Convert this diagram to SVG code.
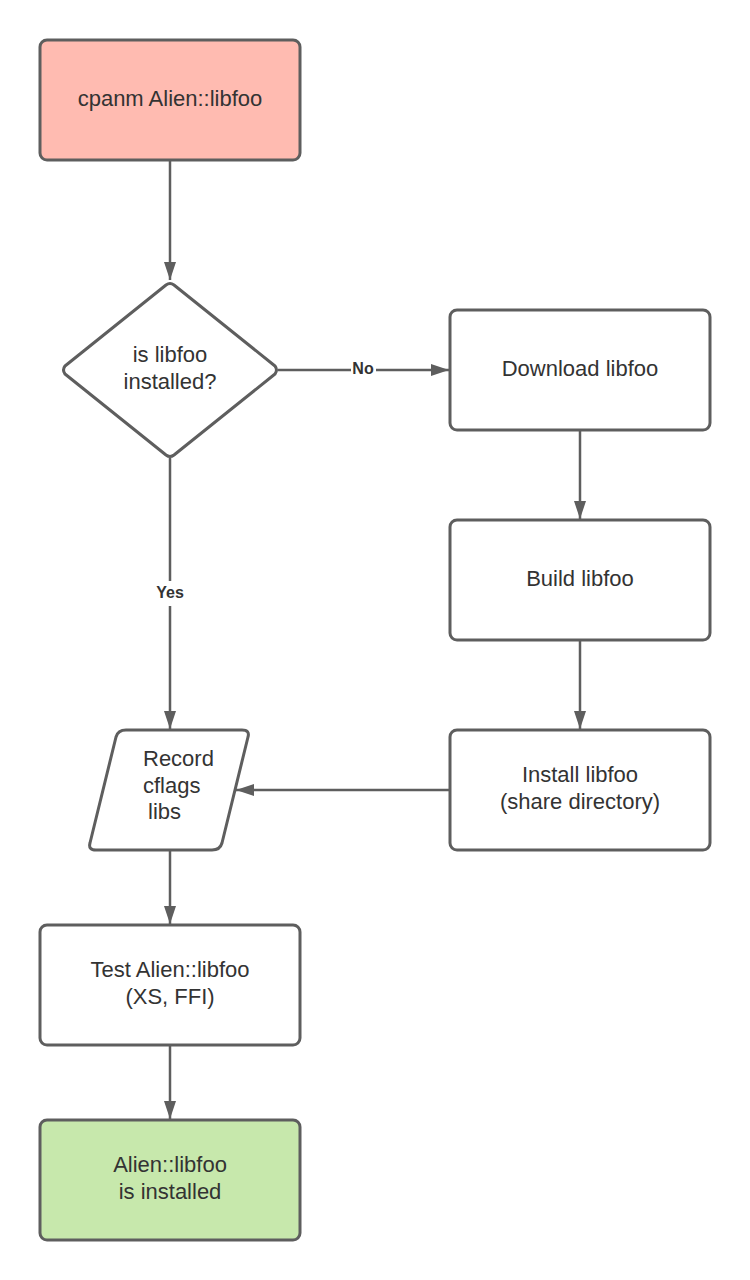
<svg xmlns="http://www.w3.org/2000/svg" width="750" height="1280" viewBox="0 0 750 1280">
<defs>
<style>
.box{fill:#ffffff;stroke:#5e5e5e;stroke-width:3;stroke-linejoin:round}
.red{fill:#ffbbb1}
.green{fill:#c7e8ac}
.t{font-family:"Liberation Sans",Arial,sans-serif;font-size:22px;fill:#333333;text-anchor:middle}
.ts{text-anchor:start}
.lbl{font-family:"Liberation Sans",Arial,sans-serif;font-size:16px;font-weight:bold;fill:#333333;text-anchor:middle}
.conn{fill:none;stroke:#5e5e5e;stroke-width:2.5}
</style>
<marker id="arrow" markerWidth="18" markerHeight="12" refX="18" refY="6" orient="auto" markerUnits="userSpaceOnUse">
<path d="M0,0 L18,6 L0,12 Z" fill="#5e5e5e"/>
</marker>
</defs>
<rect width="750" height="1280" fill="#ffffff"/>
<g id="connectors">
<path class="conn" d="M170,160 V280" marker-end="url(#arrow)"/>
<path class="conn" d="M278,370 H449" marker-end="url(#arrow)"/>
<path class="conn" d="M170,458 V729" marker-end="url(#arrow)"/>
<path class="conn" d="M580,430 V519" marker-end="url(#arrow)"/>
<path class="conn" d="M580,640 V729" marker-end="url(#arrow)"/>
<path class="conn" d="M450,790 H236" marker-end="url(#arrow)"/>
<path class="conn" d="M170,850 V924" marker-end="url(#arrow)"/>
<path class="conn" d="M170,1045 V1119" marker-end="url(#arrow)"/>
<rect x="351" y="362" width="25" height="14" fill="#ffffff"/>
<text class="lbl" x="363" y="374">No</text>
<rect x="152" y="581" width="36" height="25" fill="#ffffff"/>
<text class="lbl" x="170" y="598">Yes</text>
</g>
<g id="start">
<rect class="box red" x="40" y="40" width="260" height="120" rx="7"/>
<text class="t" x="170" y="106">cpanm Alien::libfoo</text>
</g>
<g id="decision">
<path class="box" d="M166,285 Q170,282 174,285 L275,366 Q278,370 275,374 L174,455 Q170,458 166,455 L65,374 Q62,370 65,366 Z"/>
<text class="t" x="170" y="362">is libfoo</text>
<text class="t" x="170" y="389">installed?</text>
</g>
<g id="download">
<rect class="box" x="450" y="310" width="260" height="120" rx="7"/>
<text class="t" x="580" y="376">Download libfoo</text>
</g>
<g id="build">
<rect class="box" x="450" y="520" width="260" height="120" rx="7"/>
<text class="t" x="580" y="586">Build libfoo</text>
</g>
<g id="install">
<rect class="box" x="450" y="730" width="260" height="120" rx="7"/>
<text class="t" x="580" y="782">Install libfoo</text>
<text class="t" x="580" y="809">(share directory)</text>
</g>
<g id="record">
<path class="box" d="M126,730 L242,730 Q250,730 248,737 L222,843 Q220,850 212,850 L96,850 Q88,850 90,843 L116,737 Q118,730 126,730 Z"/>
<text class="t ts" x="143" y="766">Record</text>
<text class="t ts" x="143" y="793">cflags</text>
<text class="t ts" x="148" y="819">libs</text>
</g>
<g id="test">
<rect class="box" x="40" y="925" width="260" height="120" rx="7"/>
<text class="t" x="170" y="977">Test Alien::libfoo</text>
<text class="t" x="170" y="1004">(XS, FFI)</text>
</g>
<g id="done">
<rect class="box green" x="40" y="1120" width="260" height="120" rx="7"/>
<text class="t" x="170" y="1172">Alien::libfoo</text>
<text class="t" x="170" y="1199">is installed</text>
</g>
</svg>
